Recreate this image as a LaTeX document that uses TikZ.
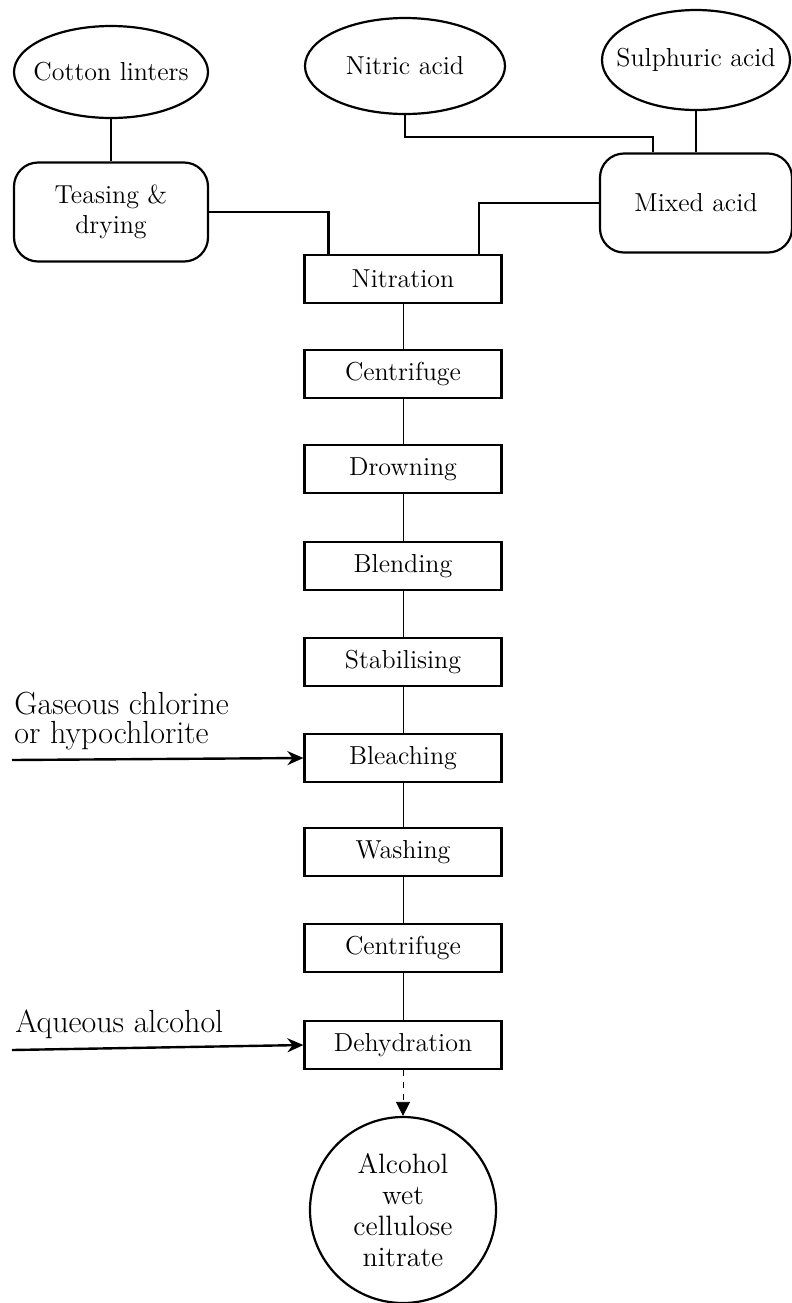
\documentclass[tikz,border=0pt]{standalone}
\usepackage{tikz}
\usetikzlibrary{shapes.geometric, arrows.meta}

\begin{document}
\begin{tikzpicture}[x=0.5pt, y=-0.5pt,
    every node/.style={font=\fontsize{13}{15}\selectfont, align=center, inner sep=0pt},
    feed/.style={draw, ellipse, line width=1.1pt, inner xsep=-9pt},
    prep/.style={draw, rounded corners=12pt, line width=1.1pt},
    stage/.style={draw, rectangle, line width=1.1pt, minimum width=98.5pt, minimum height=24pt},
    link/.style={line width=1.1pt},
    inlet/.style={line width=1.2pt, -{Stealth[length=8pt, width=7pt]}},
    sidetext/.style={font=\fontsize{16}{14.5}\selectfont, align=left}]
    \useasboundingbox (0,0) rectangle (792,1303);

    % raw materials
    \node[feed, minimum width=97pt, minimum height=46pt] (cotton) at (111,72) {Cotton linters};
    \node[feed, minimum width=100pt, minimum height=48pt] (nitric) at (405,66) {Nitric acid};
    \node[feed, minimum width=94pt, minimum height=50pt] (sulph) at (696,60) {Sulphuric acid};
    \node[prep, minimum width=97pt, minimum height=49.5pt] (teasing) at (111,212) {Teasing \&\\drying};
    \node[prep, minimum width=96pt, minimum height=49.5pt] (mixed) at (696,203) {Mixed acid};

    % process chain
    \foreach \name/\ypos/\txt in {nitr/279/Nitration, centa/374/Centrifuge, drown/469/Drowning,
        blend/566/Blending, stab/662/Stabilising, bleach/758/Bleaching, wash/852/Washing,
        centb/948/Centrifuge, dehyd/1045/Dehydration}
        \node[stage] (\name) at (403,\ypos) {\txt};

    \node[draw, circle, line width=1.1pt, minimum size=93pt, font=\fontsize{14}{15.5}\selectfont]
        (product) at (403,1210) {Alcohol\\wet\\cellulose\\nitrate};

    \draw[link] (cotton) -- (teasing);
    \draw[link] (teasing.east) -| ([xshift=12.5pt]nitr.north west);
    \draw[link] (nitric.south) -- ++(0,22) -| ([xshift=-21.5pt]mixed.north);
    \draw[link] (sulph) -- (mixed);
    \draw[link] (mixed.west) -| ([xshift=-12pt]nitr.north east);

    \foreach \a/\b in {nitr/centa, centa/drown, drown/blend, blend/stab, stab/bleach,
        bleach/wash, wash/centb, centb/dehyd}
        \draw[thin] (\a) -- (\b);
    \draw[thin, dashed, -{Triangle[length=7pt, width=7pt]}] (dehyd) -- (product);

    % side inputs
    \coordinate (chlor) at (12,760);
    \coordinate (alc) at (12,1050);
    \draw[inlet] (chlor) -- (bleach.west);
    \draw[inlet] (alc) -- (dehyd.west);
    \node[sidetext, anchor=north west] (chlortxt) at (14,692) {Gaseous chlorine\\or hypochlorite};
    \node[sidetext, anchor=base west] (alctxt) at (15,1032) {Aqueous alcohol};
\end{tikzpicture}
\end{document}
